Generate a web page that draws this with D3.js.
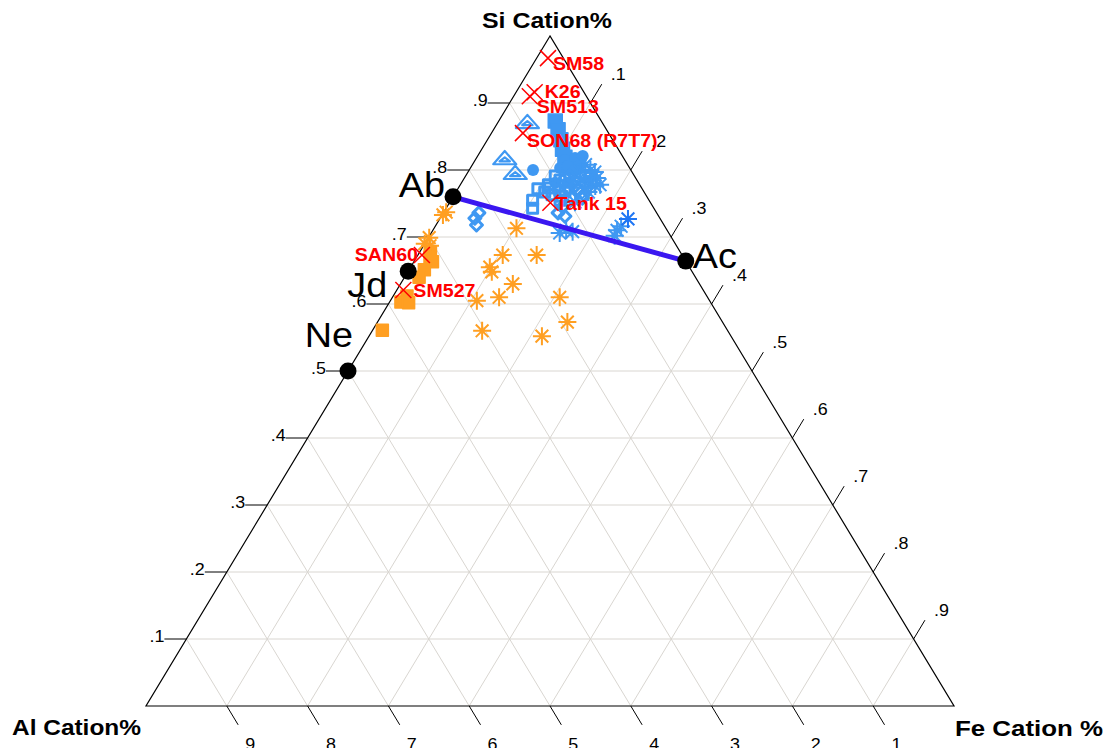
<!DOCTYPE html>
<html>
<head>
<meta charset="utf-8">
<script src="https://cdn.jsdelivr.net/npm/d3@7"></script>
<style>
  html, body { margin: 0; padding: 0; background: #fff; }
  svg { display: block; font-family: Arial, "Liberation Sans", Helvetica, sans-serif; }
</style>
</head>
<body>
<div id="chart"></div>
<script>
// all compositions are [Si, Fe] cation fractions, Al = 1 - Si - Fe
const tickValues = [0.1, 0.2, 0.3, 0.4, 0.5, 0.6, 0.7, 0.8, 0.9];
const tickLabels = [".1", ".2", ".3", ".4", ".5", ".6", ".7", ".8", ".9"];

const endMemberNames = ["Ab", "Jd", "Ne", "Ac"];
const endMemberValues = [[0.760, 0.000], [0.649, 0.000], [0.500, 0.000], [0.664, 0.336]];

const sampleNames = ["SM58", "K26", "SM513", "SON68 (R7T7)", "Tank 15", "SAN60", "SM527"];
const sampleValues = [[0.967, 0.014], [0.916, 0.023], [0.910, 0.020], [0.855, 0.039],
  [0.751, 0.125], [0.673, 0.005], [0.621, 0.008]];

const orangeStars = [[0.733, 0.001], [0.737, 0.003], [0.699, 0.001], [0.690, 0.000], [0.687, 0.008],
  [0.713, 0.102], [0.673, 0.105], [0.673, 0.147], [0.655, 0.098], [0.648, 0.104], [0.630, 0.139],
  [0.605, 0.107], [0.610, 0.132], [0.610, 0.207], [0.573, 0.235], [0.560, 0.136], [0.552, 0.214]];
const orangeSquares = [[0.678, 0.013], [0.669, 0.017], [0.663, 0.023], [0.651, 0.019], [0.640, 0.018],
  [0.612, 0.017], [0.603, 0.014], [0.602, 0.024], [0.561, 0.012]];

const blueFilledSquares = [[0.873, 0.070], [0.860, 0.080], [0.845, 0.091], [0.831, 0.100], [0.819, 0.109]];
const blueTriangles = [[0.872, 0.036], [0.818, 0.035], [0.796, 0.059]];
const blueCircles = [[0.800, 0.079], [0.810, 0.132], [0.812, 0.119], [0.815, 0.111], [0.818, 0.122],
  [0.821, 0.130], [0.803, 0.111], [0.800, 0.125], [0.781, 0.116], [0.781, 0.131], [0.806, 0.132],
  [0.806, 0.119], [0.800, 0.131]];
const blueSquares = [[0.755, 0.101], [0.743, 0.107], [0.772, 0.099], [0.791, 0.111], [0.778, 0.109],
  [0.763, 0.121], [0.761, 0.134], [0.776, 0.122], [0.767, 0.110], [0.785, 0.120], [0.767, 0.135],
  [0.770, 0.127], [0.773, 0.113], [0.755, 0.135]];
const blueDiamonds = [[0.728, 0.043], [0.736, 0.044], [0.718, 0.050], [0.736, 0.142], [0.731, 0.153],
  [0.745, 0.143], [0.788, 0.125], [0.785, 0.138], [0.773, 0.136], [0.770, 0.150], [0.758, 0.148],
  [0.758, 0.161], [0.791, 0.129], [0.776, 0.143], [0.763, 0.160]];
const blueStars = [[0.706, 0.159], [0.710, 0.165], [0.708, 0.174], [0.710, 0.228], [0.702, 0.229],
  [0.716, 0.230], [0.808, 0.140], [0.800, 0.150], [0.788, 0.164], [0.782, 0.152], [0.776, 0.168],
  [0.778, 0.173], [0.767, 0.164], [0.797, 0.139], [0.785, 0.157], [0.788, 0.143], [0.773, 0.157],
  [0.791, 0.156], [0.797, 0.157], [0.752, 0.155]];
const darkBlueStars = [[0.727, 0.233]];

const ORANGE = "#ff9f22", BLUE = "#3f98f2", DARKBLUE = "#1f76f4", RED = "#ff0000";

const svg = d3.select("#chart").append("svg").attr("width", 1108).attr("height", 748);

const siScale = d3.scaleLinear().domain([0, 1]).range([706, 36]);
const baseScale = d3.scaleLinear().domain([0, 1]).range([146, 954]);
const px = d => [baseScale(d[1] + d[0] / 2), siScale(d[0])];
const line = d3.line();

function addText(x, y, txt, o = {}) {
    return svg.append("text")
        .attr("transform", `translate(${x},${y}) scale(${o.sx || 1},1)`)
        .attr("text-anchor", o.anchor || "start")
        .attr("font-size", o.size || 15)
        .attr("font-weight", o.bold ? "bold" : "normal")
        .attr("fill", o.color || "#000")
        .text(txt);
}

// grid
const gridLines = [];
tickValues.forEach(t => {
    gridLines.push([[t, 0], [t, 1 - t]]);
    gridLines.push([[0, t], [1 - t, t]]);
    gridLines.push([[0, 1 - t], [1 - t, 0]]);
});
svg.append("g").selectAll("path").data(gridLines).join("path")
    .attr("d", d => line(d.map(px)))
    .attr("fill", "none").attr("stroke", "#d9d6d1").attr("stroke-width", 1);

svg.append("path")
    .attr("d", line([[1, 0], [0, 0], [0, 1]].map(px)) + "Z")
    .attr("fill", "none").attr("stroke", "#000").attr("stroke-width", 1.2);

// ticks
const TL = 22;
const up = [0.516, -0.856], down = [0.516, 0.856];
const tickFont = { size: 16, sx: 1.12 };
tickValues.forEach((t, i) => {
    // Si (left edge)
    let [x, y] = px([t, 0]);
    svg.append("line").attr("x1", x).attr("y1", y).attr("x2", x - TL).attr("y2", y).attr("stroke", "#000");
    addText(x - TL, y + 3, tickLabels[i], { ...tickFont, anchor: "end" });
    // Fe (right edge)
    [x, y] = px([1 - t, t]);
    let ex = x + up[0] * TL, ey = y + up[1] * TL;
    svg.append("line").attr("x1", x).attr("y1", y).attr("x2", ex).attr("y2", ey).attr("stroke", "#000");
    addText(ex + 9, ey - 4, tickLabels[i], tickFont);
    // Al (bottom edge)
    [x, y] = px([0, 1 - t]);
    ex = x + down[0] * TL; ey = y + down[1] * TL;
    svg.append("line").attr("x1", x).attr("y1", y).attr("x2", ex).attr("y2", ey).attr("stroke", "#000");
    addText(ex + 2, 750, tickLabels[i], tickFont);
});

// axis titles
addText(482, 28, "Si Cation%", { size: 22, bold: true }).attr("textLength", 130).attr("lengthAdjust", "spacingAndGlyphs");
addText(12, 735, "Al Cation%", { size: 22, bold: true }).attr("textLength", 129).attr("lengthAdjust", "spacingAndGlyphs");
addText(955, 736, "Fe Cation %", { size: 22, bold: true }).attr("textLength", 148).attr("lengthAdjust", "spacingAndGlyphs");

// marker shapes
const shapes = {
    star: r => {
        const d = r * Math.SQRT1_2;
        return `M${-r},0L${r},0M0,${-r}L0,${r}M${-d},${-d}L${d},${d}M${-d},${d}L${d},${-d}`;
    },
    cross: r => `M${-r},${-r}L${r},${r}M${-r},${r}L${r},${-r}`,
    square: r => `M${-r},${-r}H${r}V${r}H${-r}Z`,
    diamond: r => `M0,${-r}L${r},0L0,${r}L${-r},0Z`,
    triangle: r => `M0,${-r * 0.6}L${r},${r * 0.55}L${-r},${r * 0.55}Z M0,${-r * 0.05}L${r * 0.45},${r * 0.3}L${-r * 0.45},${r * 0.3}Z`
};

function drawMarkers(data, shape, r, style) {
    svg.append("g").selectAll("path").data(data).join("path")
        .attr("transform", d => `translate(${px(d)})`)
        .attr("d", shapes[shape](r))
        .attr("fill", style.fill || "none")
        .attr("stroke", style.stroke || "none")
        .attr("stroke-width", style.sw || 0)
        .attr("stroke-linejoin", "round");
}

drawMarkers(orangeSquares, "square", 6, { fill: ORANGE, stroke: ORANGE, sw: 1.5 });
drawMarkers(orangeStars, "star", 9, { stroke: ORANGE, sw: 2 });

drawMarkers(blueTriangles, "triangle", 11.5, { stroke: BLUE, sw: 2.2 });
drawMarkers(blueFilledSquares, "square", 7, { fill: BLUE, stroke: BLUE, sw: 1.5 });
svg.append("g").selectAll("circle").data(blueCircles).join("circle")
    .attr("cx", d => px(d)[0]).attr("cy", d => px(d)[1]).attr("r", 6).attr("fill", BLUE);
drawMarkers(blueSquares, "square", 5, { stroke: BLUE, sw: 3 });
drawMarkers(blueDiamonds, "diamond", 6, { stroke: BLUE, sw: 3 });
drawMarkers(blueStars, "star", 9, { stroke: BLUE, sw: 2 });
drawMarkers(darkBlueStars, "star", 9, { stroke: DARKBLUE, sw: 2 });

// Ab - Ac join
const ab = endMemberValues[endMemberNames.indexOf("Ab")];
const ac = endMemberValues[endMemberNames.indexOf("Ac")];
svg.append("path").attr("d", line([ab, ac].map(px)))
    .attr("stroke", "#3a17f0").attr("stroke-width", 5).attr("fill", "none");

// end members
svg.append("g").selectAll("circle").data(endMemberValues).join("circle")
    .attr("cx", d => px(d)[0]).attr("cy", d => px(d)[1]).attr("r", 8.5).attr("fill", "#000");
const endLabelPos = {
    Ab: { dx: -8, dy: 0, anchor: "end" },
    Jd: { dx: -21, dy: 26, anchor: "end" },
    Ne: { dx: 5, dy: -24, anchor: "end" },
    Ac: { dx: 7, dy: 7, anchor: "start" }
};
endMemberNames.forEach((n, i) => {
    const [x, y] = px(endMemberValues[i]);
    const p = endLabelPos[n];
    addText(x + p.dx, y + p.dy, n, { size: 35, anchor: p.anchor, sx: 1.08 });
});

// red samples
drawMarkers(sampleValues, "cross", 8, { stroke: RED, sw: 1.5 });
const sampleLabelPos = {
    "SM58": { dx: 5, dy: 12 },
    "K26": { dx: 10, dy: 6 },
    "SM513": { dx: 7, dy: 17 },
    "SON68 (R7T7)": { dx: 4, dy: 14 },
    "Tank 15": { dx: 5, dy: 7 },
    "SAN60": { dx: -4, dy: 6, anchor: "end" },
    "SM527": { dx: 10, dy: 7 }
};
sampleNames.forEach((n, i) => {
    const [x, y] = px(sampleValues[i]);
    const p = sampleLabelPos[n];
    addText(x + p.dx, y + p.dy, n, { size: 18.5, bold: true, color: RED, anchor: p.anchor, sx: 1.06 });
});
</script>
</body>
</html>
